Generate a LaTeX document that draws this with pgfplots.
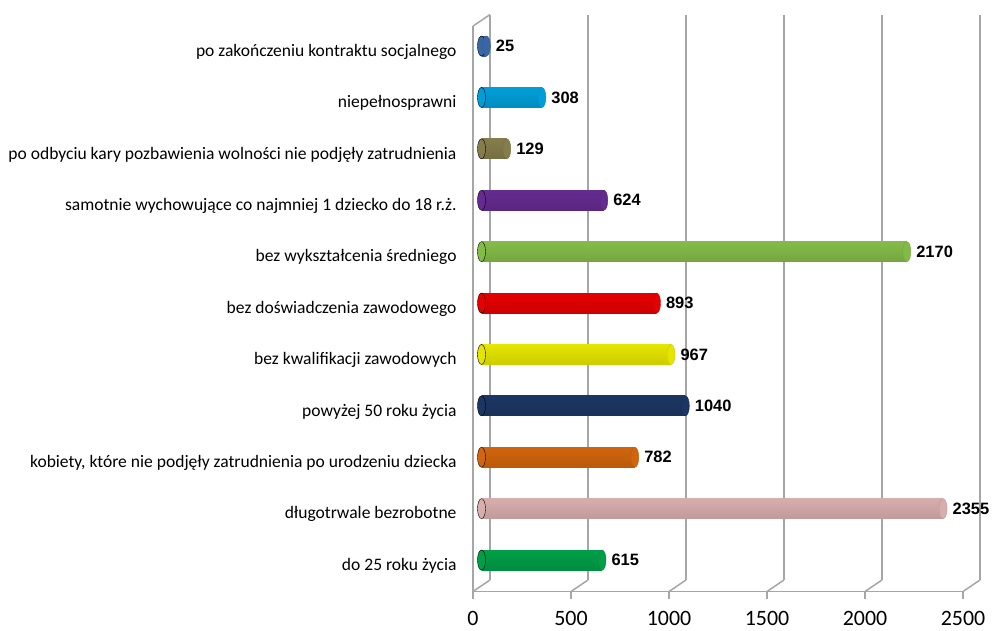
\documentclass[border=0pt]{standalone}
\usepackage{pgfplots}
\pgfplotsset{compat=1.18}
\usepackage{fontspec}
\setmainfont{Carlito}
\newfontfamily\lsans{Liberation Sans}
\definecolor{gridc}{HTML}{A6A6A6}
\definecolor{c0}{HTML}{00B050}
\definecolor{c1}{HTML}{F0C0C0}
\definecolor{c2}{HTML}{E8700E}
\definecolor{c3}{HTML}{1F3C6E}
\definecolor{c4}{HTML}{FFFF00}
\definecolor{c5}{HTML}{FF0000}
\definecolor{c6}{HTML}{92D050}
\definecolor{c7}{HTML}{7030A0}
\definecolor{c8}{HTML}{948A54}
\definecolor{c9}{HTML}{00B0F0}
\definecolor{c10}{HTML}{3F72B8}
\newcommand{\cyl}[3]{%
  \addplot[only marks, mark=*, mark size=10bp, mark options={xscale=0.4, fill=#1!90!black, draw=none}] coordinates {(0,#3)};
  \addplot[xbar, bar width=20bp, bar shift=0pt, draw=none, top color=#1!90!black, middle color=#1!82!white, bottom color=#1!80!black,
    nodes near coords, nodes near coords align={horizontal},
    every node near coord/.append style={font=\lsans\bfseries\fontsize{16.5}{18}\selectfont, black, anchor=west, xshift=6bp}] coordinates {(#2,#3)};
  \addplot[only marks, mark=*, mark size=10bp, mark options={xscale=0.4, fill=#1!90!black, draw=#1!80!black, line width=0.4bp}] coordinates {(#2,#3)};
}
\begin{document}
\begin{tikzpicture}
\useasboundingbox (0,0) rectangle (992bp,631bp);
% back wall grid
\begin{axis}[at={(490bp,51bp)}, anchor=south west, scale only axis, width=490bp, height=565.4bp,
  xmin=0, xmax=2500, ymin=-0.5, ymax=10.5,
  axis line style={draw=none}, tick style={draw=none},
  xtick={0,500,...,2500}, xticklabels={}, ytick=\empty,
  xmajorgrids, grid style={gridc, line width=1.8bp}]
\end{axis}
% front frame
\begin{axis}[at={(473bp,39.5bp)}, anchor=south west, scale only axis, width=490bp, height=565.4bp,
  xmin=0, xmax=2500, ymin=-0.5, ymax=10.5,
  axis x line*=bottom, axis y line*=left,
  axis line style={-, gridc, line width=1.5bp},
  xtick={0,500,...,2500}, tick align=outside, major tick length=7bp,
  x tick style={gridc, line width=1.5bp},
  /pgf/number format/assume math mode=true,
  /pgf/number format/set thousands separator={},
  scaled x ticks=false,
  xticklabel style={font=\fontsize{22}{24}\selectfont, inner sep=0pt, yshift=-13bp},
  ytick={0,...,10}, y tick style={draw=none},
  minor ytick={-0.5,0.5,...,10.5}, minor tick length=4bp, minor y tick style={gridc, line width=1.2bp},
  yticklabel style={font=\fontsize{17.6}{20}\selectfont, anchor=east, xshift=-6bp},
  yticklabels={do 25 roku życia, długotrwale bezrobotne, {kobiety, które nie podjęły zatrudnienia po urodzeniu dziecka}, powyżej 50 roku życia, bez kwalifikacji zawodowych, bez doświadczenia zawodowego, bez wykształcenia średniego, samotnie wychowujące co najmniej 1 dziecko do 18 r.ż., po odbyciu kary pozbawienia wolności nie podjęły zatrudnienia, niepełnosprawni, po zakończeniu kontraktu socjalnego},
  clip=false]
\draw[gridc, line width=1.5bp] (axis cs:0,-0.5) -- ++(17bp,11.5bp);
\draw[gridc, line width=1.5bp] (axis cs:500,-0.5) -- ++(17bp,11.5bp);
\draw[gridc, line width=1.5bp] (axis cs:1000,-0.5) -- ++(17bp,11.5bp);
\draw[gridc, line width=1.5bp] (axis cs:1500,-0.5) -- ++(17bp,11.5bp);
\draw[gridc, line width=1.5bp] (axis cs:2000,-0.5) -- ++(17bp,11.5bp);
\draw[gridc, line width=1.5bp] (axis cs:2500,-0.5) -- ++(17bp,11.5bp);
\draw[gridc, line width=1.5bp] (axis cs:0,10.5) -- ++(17bp,11.5bp);
\end{axis}
% bars
\begin{axis}[at={(481.5bp,45.25bp)}, anchor=south west, scale only axis, width=490bp, height=565.4bp,
  xmin=0, xmax=2500, ymin=-0.5, ymax=10.5, hide axis, clip=false,
  /pgf/number format/assume math mode=true,
  /pgf/number format/set thousands separator={}]
\cyl{c0}{615}{0}
\cyl{c1}{2355}{1}
\cyl{c2}{782}{2}
\cyl{c3}{1040}{3}
\cyl{c4}{967}{4}
\cyl{c5}{893}{5}
\cyl{c6}{2170}{6}
\cyl{c7}{624}{7}
\cyl{c8}{129}{8}
\cyl{c9}{308}{9}
\cyl{c10}{25}{10}
\end{axis}
\end{tikzpicture}
\end{document}
